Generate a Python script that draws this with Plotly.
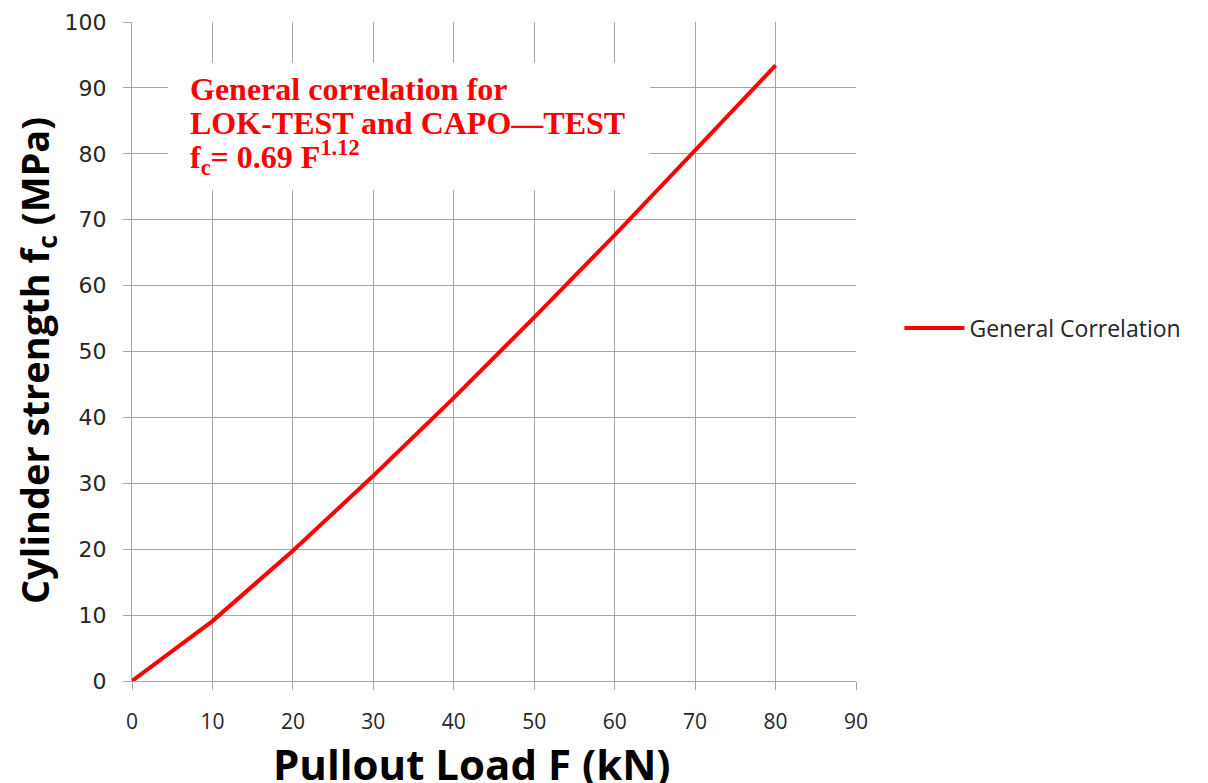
import plotly.graph_objects as go

pullout_load = [0, 10, 20, 30, 40, 50, 60, 70, 80]
cylinder_strength = [0, 9.09, 19.77, 31.14, 42.97, 55.17, 67.66, 80.42, 93.4]
x_ticks = [0, 10, 20, 30, 40, 50, 60, 70, 80, 90]
y_ticks = [0, 10, 20, 30, 40, 50, 60, 70, 80, 90, 100]
note_lines = ["General correlation for", "LOK-TEST and CAPO\u2014TEST",
              "f<sub>c</sub>= 0.69 F<sup>1.12</sup>"]
note_y = [89.9, 84.7, 79.5]

grid = "#a6a6a6"

fig = go.Figure()
fig.add_trace(go.Scatter(
    x=pullout_load, y=cylinder_strength, mode="lines",
    name="General Correlation",
    line=dict(color="#ff0000", width=4),
))

fig.update_layout(
    width=1200, height=775,
    margin=dict(l=124, r=352, t=14, b=102),
    paper_bgcolor="white", plot_bgcolor="white",
    showlegend=True,
    legend=dict(x=1.06, y=0.5357, xanchor="left", yanchor="middle",
                font=dict(family="Open Sans, DejaVu Sans", size=23, color="#262626"),
                itemwidth=60, bgcolor="rgba(0,0,0,0)"),
    xaxis=dict(range=[0, 90], tickvals=x_ticks, showgrid=True, gridcolor=grid, gridwidth=1,
               showline=True, linecolor=grid, linewidth=1, ticks="outside", ticklen=8,
               tickcolor=grid, zeroline=False, automargin=False, ticklabelstandoff=14,
               tickfont=dict(family="Open Sans", size=21, color="#262626")),
    yaxis=dict(range=[0, 100], tickvals=y_ticks, showgrid=True, gridcolor=grid, gridwidth=1,
               showline=True, linecolor=grid, linewidth=1, ticks="outside", ticklen=8,
               tickcolor=grid, zeroline=False, automargin=False, ticklabelstandoff=12,
               tickfont=dict(family="DejaVu Sans, Verdana", size=22, color="#262626")),
)

# axis titles
fig.add_annotation(
    x=0.4696, y=-0.0783, xref="paper", yref="paper", xanchor="center", yanchor="top",
    showarrow=False, text="Pullout Load F (kN)",
    font=dict(family="Open Sans", size=42, color="black", weight="bold"),
)
fig.add_annotation(
    x=-0.1312, y=0.4856, xref="paper", yref="paper", xanchor="center", yanchor="middle",
    showarrow=False, textangle=-90, text="Cylinder strength f<sub>c</sub> (MPa)",
    font=dict(family="Open Sans", size=38, color="black", weight="bold"),
)

fig.add_shape(type="rect", xref="x", yref="y", x0=4.47, x1=64.4, y0=74.5, y1=93.8,
              fillcolor="white", line=dict(width=0), layer="between")

for txt, yy in zip(note_lines, note_y):
    fig.add_annotation(
        x=7.0, y=yy, xref="x", yref="y", xanchor="left", yanchor="middle",
        showarrow=False, align="left", text=txt,
        font=dict(family="Liberation Serif, Times New Roman", size=32, color="#ff0000",
                  weight="bold"),
    )

fig.write_html("out.html")
